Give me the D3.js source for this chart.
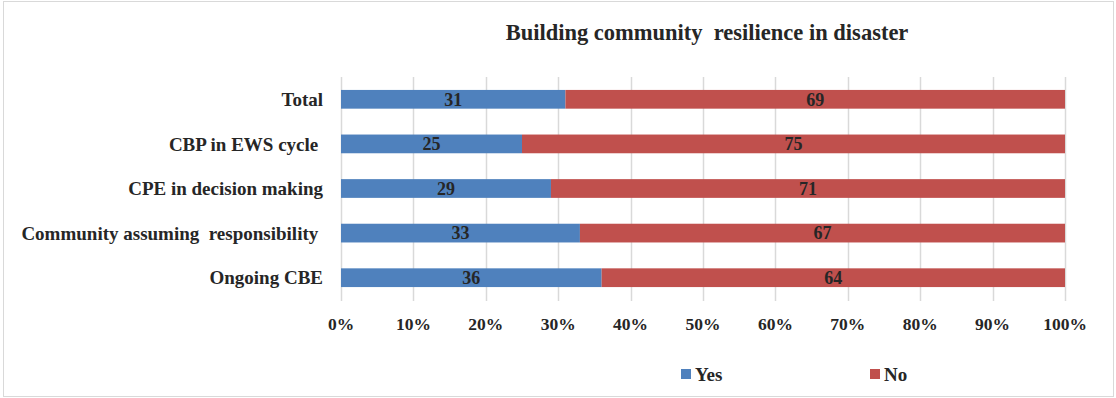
<!DOCTYPE html>
<html>
<head>
<meta charset="utf-8">
<script src="https://cdn.jsdelivr.net/npm/d3@7"></script>
<style>
  body { margin: 0; background: #fff; }
  svg { display: block; }
  text { font-family: "Liberation Serif", "DejaVu Serif", serif; fill: #262626; }
</style>
</head>
<body>
<div id="chart"></div>
<script>
// data
const categories = ["Total", "CBP in EWS cycle ", "CPE in decision making", "Community assuming  responsibility ", "Ongoing CBE"];
const yesValues = [31, 25, 29, 33, 36];
const noValues = [69, 75, 71, 67, 64];
const seriesNames = ["Yes", "No"];
const tickValues = [0, 10, 20, 30, 40, 50, 60, 70, 80, 90, 100];

const colors = ["#4f81bd", "#c0504d"];

const width = 1116, height = 398;
const margin = { top: 77, right: 51, bottom: 98, left: 341 };

const svg = d3.select("#chart").append("svg")
    .attr("width", width)
    .attr("height", height);

// chart border
svg.append("rect")
    .attr("x", 3.5).attr("y", 1.5)
    .attr("width", 1110).attr("height", 395)
    .attr("fill", "#fff")
    .attr("stroke", "#d9d9d9");

svg.append("text")
    .attr("x", 707).attr("y", 40)
    .attr("text-anchor", "middle")
    .style("font-size", "22.5px")
    .style("font-weight", "bold")
    .style("white-space", "pre")
    .text("Building community  resilience in disaster");

const x = d3.scaleLinear()
    .domain([0, 100])
    .range([margin.left, width - margin.right]);

const y = d3.scaleBand()
    .domain(categories)
    .range([margin.top, height - margin.bottom])
    .paddingInner(0.58)
    .paddingOuter(0.29);

// gridlines + tick marks
svg.append("g")
    .selectAll("line")
    .data(tickValues)
    .join("line")
    .attr("x1", d => Math.round(x(d)) + 0.5)
    .attr("x2", d => Math.round(x(d)) + 0.5)
    .attr("y1", margin.top)
    .attr("y2", height - margin.bottom + 1)
    .attr("stroke", "#d9d9d9")
    .attr("stroke-width", 1.5);

// x tick labels
svg.append("g")
    .selectAll("text")
    .data(tickValues)
    .join("text")
    .attr("x", d => x(d))
    .attr("y", 330)
    .attr("text-anchor", "middle")
    .style("font-size", "17.5px")
    .style("font-weight", "bold")
    .text(d => d + "%");

// category labels
svg.append("g")
    .selectAll("text")
    .data(categories)
    .join("text")
    .attr("x", 323)
    .attr("y", d => y(d) + y.bandwidth() / 2)
    .attr("dy", "0.35em")
    .attr("text-anchor", "end")
    .style("font-size", "19px")
    .style("font-weight", "bold")
    .style("white-space", "pre")
    .text(d => d);

const rows = categories.map((c, i) => ({ cat: c, Yes: yesValues[i], No: noValues[i] }));
const stacked = d3.stack().keys(seriesNames)(rows);

const layer = svg.append("g")
    .selectAll("g")
    .data(stacked)
    .join("g")
    .attr("fill", (d, i) => colors[i]);

layer.selectAll("rect")
    .data(d => d)
    .join("rect")
    .attr("x", d => x(d[0]))
    .attr("y", d => y(d.data.cat))
    .attr("width", d => x(d[1]) - x(d[0]))
    .attr("height", y.bandwidth());

layer.selectAll("text")
    .data(d => d)
    .join("text")
    .attr("x", d => (x(d[0]) + x(d[1])) / 2)
    .attr("y", d => y(d.data.cat) + y.bandwidth() / 2)
    .attr("dy", "0.35em")
    .attr("text-anchor", "middle")
    .style("font-size", "18px")
    .style("font-weight", "bold")
    .style("fill", "#262626")
    .text(d => d[1] - d[0]);

// legend
const legendX = [681, 870];
const legend = svg.append("g")
    .selectAll("g")
    .data(seriesNames)
    .join("g")
    .attr("transform", (d, i) => `translate(${legendX[i]},369)`);

legend.append("rect")
    .attr("width", 10).attr("height", 10)
    .attr("fill", (d, i) => colors[i]);

legend.append("text")
    .attr("x", 14).attr("y", 5)
    .attr("dy", "0.35em")
    .style("font-size", "19px")
    .style("font-weight", "bold")
    .text(d => d);
</script>
</body>
</html>
